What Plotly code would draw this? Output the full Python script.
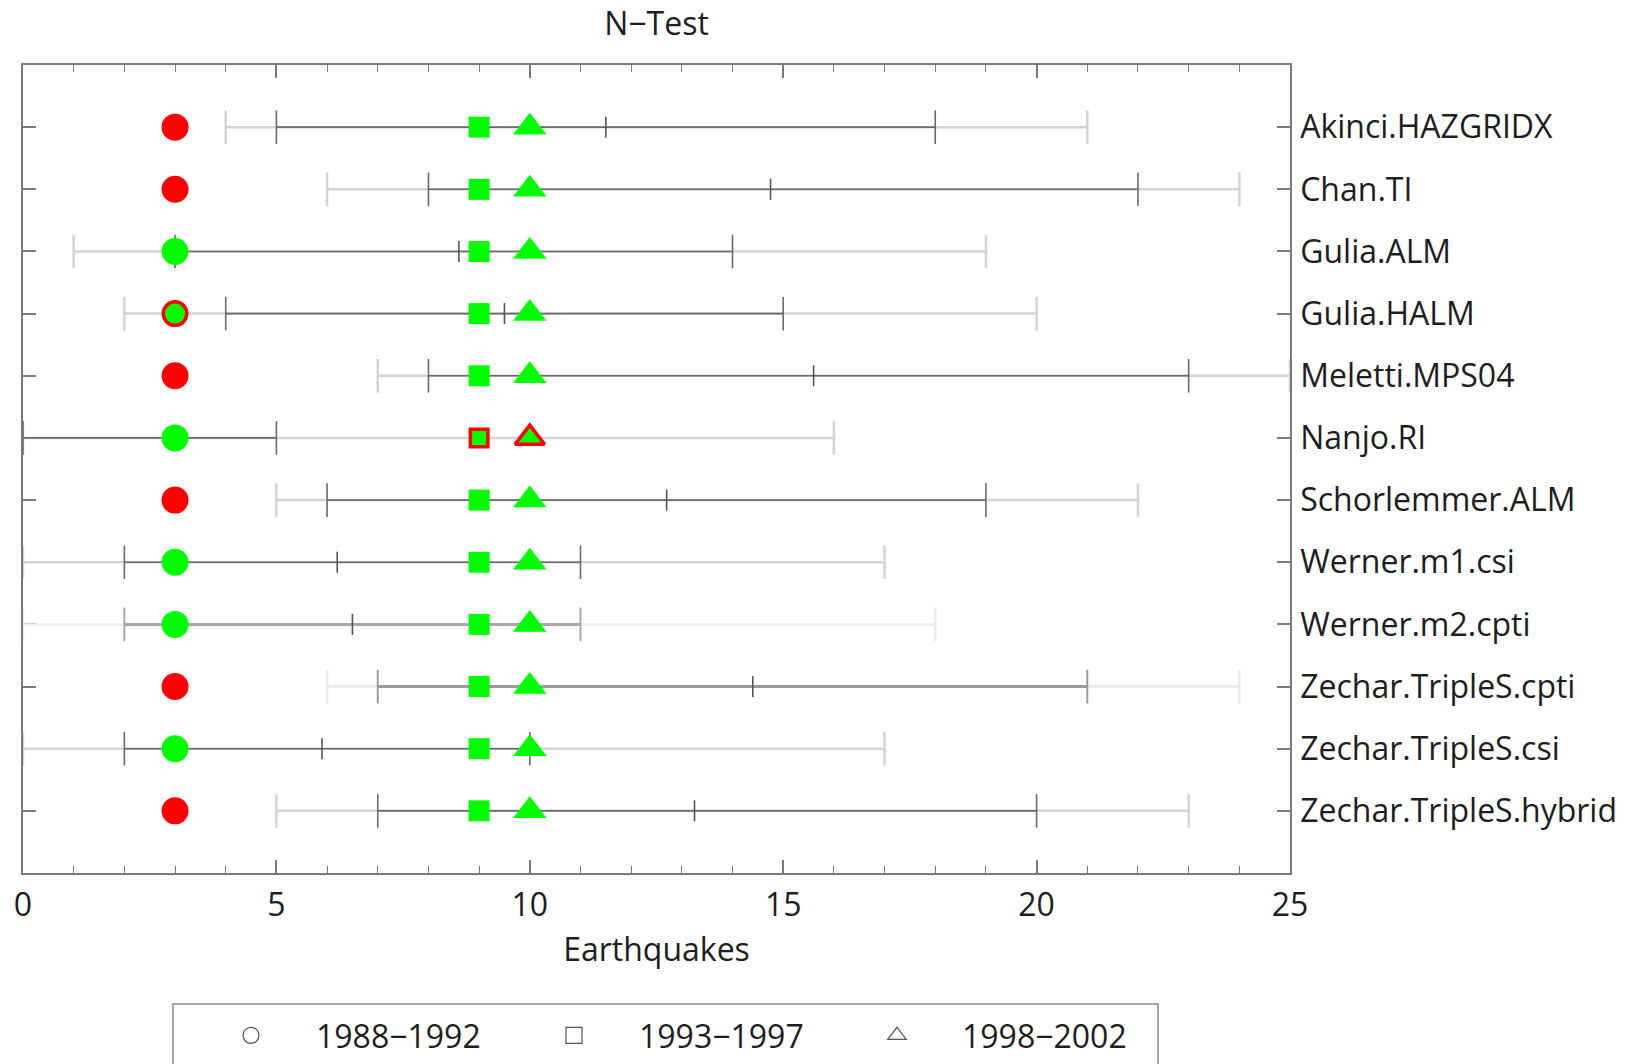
import plotly.graph_objects as go

# ---------------- data ----------------
models = ["Akinci.HAZGRIDX", "Chan.TI", "Gulia.ALM", "Gulia.HALM", "Meletti.MPS04",
          "Nanjo.RI", "Schorlemmer.ALM", "Werner.m1.csi", "Werner.m2.cpti",
          "Zechar.TripleS.cpti", "Zechar.TripleS.csi", "Zechar.TripleS.hybrid"]
row_pos = [1, 2, 3, 4, 5, 6, 7, 8, 9, 10, 11, 12]

periods = ["1988\u22121992", "1993\u22121997", "1998\u22122002"]

# observed number of earthquakes in each period
obs_1988 = [3, 3, 3, 3, 3, 3, 3, 3, 3, 3, 3, 3]
obs_1993 = [9, 9, 9, 9, 9, 9, 9, 9, 9, 9, 9, 9]
obs_1998 = [10, 10, 10, 10, 10, 10, 10, 10, 10, 10, 10, 10]

# test outcome per period: pass / fail / mixed
status_1988 = ["fail", "fail", "pass", "mixed", "fail", "pass", "fail", "pass", "pass", "fail", "pass", "fail"]
status_1993 = ["pass", "pass", "pass", "pass", "pass", "mixed", "pass", "pass", "pass", "pass", "pass", "pass"]
status_1998 = ["pass", "pass", "pass", "pass", "pass", "mixed", "pass", "pass", "pass", "pass", "pass", "pass"]

# forecast ranges
outer_lo = [4, 6, 1, 2, 7, 0, 5, 0, 0, 6, 0, 5]
outer_hi = [21, 24, 19, 20, 25, 16, 22, 17, 18, 24, 17, 23]
inner_lo = [5, 8, 3, 4, 8, 0, 6, 2, 2, 7, 2, 7]
inner_hi = [18, 22, 14, 15, 23, 5, 19, 11, 11, 21, 10, 20]
mid_val = [11.5, 14.75, 8.6, 9.5, 15.6, None, 12.7, 6.2, 6.5, 14.4, 5.9, 13.25]

x_ticks = [0, 5, 10, 15, 20, 25]

# ---------------- style ----------------
FONT = "Open Sans"
FS = 32
TXT = "#1e1e1e"
AX = "#7a7a7a"
GREEN = "#00ff00"
RED = "#ff0000"
outer_col = {m: "#d4d4d4" for m in models}
inner_col = {m: "#6a6a6a" for m in models}
outer_w = {m: 2.5 for m in models}
inner_w = {m: 1.6 for m in models}
outer_col["Werner.m2.cpti"] = "#ececec"
inner_col["Werner.m2.cpti"] = "#a8a8a8"
inner_w["Werner.m2.cpti"] = 3
outer_col["Zechar.TripleS.cpti"] = "#e8e8e8"
inner_col["Zechar.TripleS.cpti"] = "#9a9a9a"
inner_w["Zechar.TripleS.cpti"] = 3

fig = go.Figure()

# outer range lines + caps
for i, m in enumerate(models):
    y = row_pos[i]
    fig.add_trace(go.Scatter(
        x=[outer_lo[i], outer_hi[i]], y=[y, y], mode="lines+markers",
        line=dict(color=outer_col[m], width=outer_w[m]),
        marker=dict(symbol="line-ns", size=24, line=dict(color=outer_col[m], width=2.5)),
        showlegend=False, hoverinfo="skip"))
# inner range lines + caps
for i, m in enumerate(models):
    y = row_pos[i]
    fig.add_trace(go.Scatter(
        x=[inner_lo[i], inner_hi[i]], y=[y, y], mode="lines+markers",
        line=dict(color=inner_col[m], width=inner_w[m]),
        marker=dict(symbol="line-ns", size=24, line=dict(color=inner_col[m], width=max(1.6, inner_w[m] - 1))),
        showlegend=False, hoverinfo="skip"))
# mid ticks
fig.add_trace(go.Scatter(
    x=mid_val, y=row_pos, mode="markers",
    marker=dict(symbol="line-ns", size=15, line=dict(color="#555555", width=1.6)),
    showlegend=False, hoverinfo="skip"))


def marker_style(status, base_size, lw):
    fill = [RED if s == "fail" else GREEN for s in status]
    lcol = [RED for s in status]
    lwid = [lw if s == "mixed" else 0 for s in status]
    size = [base_size - lw if s == "mixed" else base_size for s in status]
    return fill, lcol, lwid, size


for obs, status, sym, base, lw in [(obs_1988, status_1988, "circle", 27, 3.5),
                                   (obs_1993, status_1993, "square", 21, 3.5),
                                   (obs_1998, status_1998, "triangle-up", 29, 3.5)]:
    fill, lcol, lwid, size = marker_style(status, base, lw)
    fig.add_trace(go.Scatter(
        x=obs, y=row_pos, mode="markers",
        marker=dict(symbol=sym, size=size, color=fill, opacity=1,
                    line=dict(color=lcol, width=lwid)),
        showlegend=False, hoverinfo="skip"))

# legend entries
for name, sym in zip(periods, ["circle-open", "square-open", "triangle-up-open"]):
    fig.add_trace(go.Scatter(
        x=[None], y=[None], mode="markers", name=name,
        marker=dict(symbol=sym, size=16, color="#555555", line=dict(width=1.2))))

# geometry
L, R, T, B = 23, 346, 65, 191
W, H = 1636, 1064
pw = W - L - R
ph = H - T - B

def px_x(p):
    return (p - L) / pw

def px_y(p):
    return (H - B - p) / ph

fig.add_shape(type="rect", xref="paper", yref="paper",
              x0=px_x(173), x1=px_x(1158), y0=px_y(1070), y1=px_y(1004),
              line=dict(color="#8a8a8a", width=1.5), layer="below")

fig.update_layout(
    width=W, height=H,
    margin=dict(l=L, r=R, t=T, b=B, autoexpand=False),
    paper_bgcolor="white", plot_bgcolor="white",
    font=dict(family=FONT, size=FS, color=TXT),
    title=dict(text="N\u2212Test", x=0.5, xref="paper", xanchor="center",
               y=1 - 24 / H, yref="container", yanchor="middle",
               font=dict(family=FONT, size=FS, color=TXT)),
    showlegend=True,
    legend=dict(orientation="h", x=px_x(186), xanchor="left", y=px_y(1008), yanchor="top",
                bgcolor="rgba(0,0,0,0)", borderwidth=0,
                font=dict(family=FONT, size=FS, color=TXT),
                itemwidth=120, entrywidth=188, entrywidthmode="pixels"),
    xaxis=dict(range=[0, 25], tickvals=x_ticks, ticktext=[str(v) for v in x_ticks],
               ticks="inside", ticklen=13, tickwidth=1.5, tickcolor=AX,
               minor=dict(dtick=1, ticks="inside", ticklen=7, tickwidth=1.2, tickcolor=AX, showgrid=False),
               showline=True, linecolor=AX, linewidth=1.6, mirror="ticks",
               showgrid=False, zeroline=False, layer="below traces",
               ticklabelstandoff=3,
               title=dict(text="Earthquakes", standoff=14, font=dict(size=FS, family=FONT, color=TXT)),
               tickfont=dict(size=FS, family=FONT, color=TXT)),
    yaxis=dict(range=[13, 0], tickvals=row_pos, ticktext=models, side="right",
               ticks="inside", ticklen=13, tickwidth=1.5, tickcolor=AX,
               showline=True, linecolor=AX, linewidth=1.6, mirror="ticks",
               showgrid=False, zeroline=False, layer="below traces",
               ticklabelstandoff=2,
               tickfont=dict(size=FS, family=FONT, color=TXT)),
)

fig.write_html("out.html")
